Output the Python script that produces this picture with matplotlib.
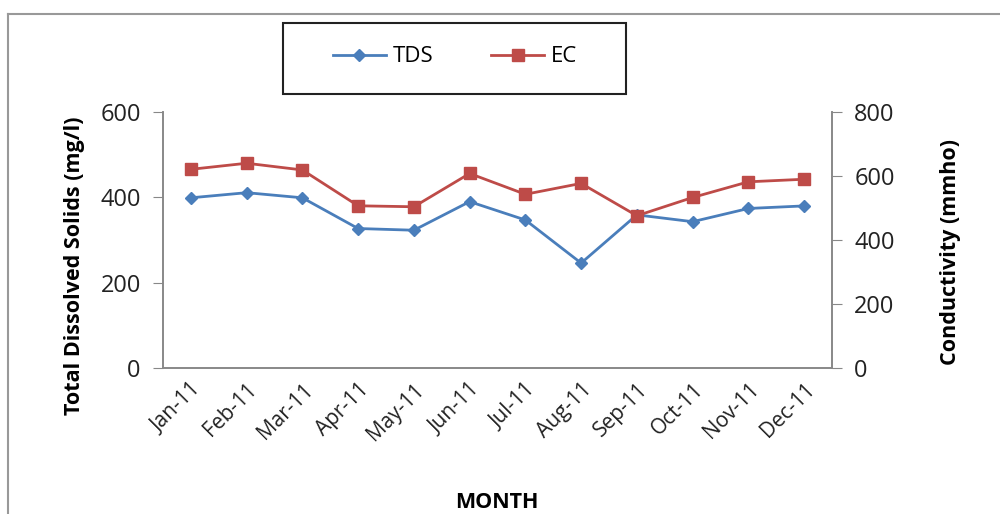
import matplotlib
matplotlib.use("Agg")
import matplotlib.pyplot as plt
from matplotlib.lines import Line2D
from matplotlib.patches import Rectangle

months = ["Jan-11", "Feb-11", "Mar-11", "Apr-11", "May-11", "Jun-11",
          "Jul-11", "Aug-11", "Sep-11", "Oct-11", "Nov-11", "Dec-11"]
tds = [399, 411, 399, 327, 323, 390, 347, 246, 359, 343, 374, 380]
ec = [621, 640, 619, 507, 504, 608, 543, 577, 476, 533, 582, 590]

plt.rcParams['font.family'] = ['Open Sans', 'DejaVu Sans']

fig = plt.figure(figsize=(10, 5.14), dpi=100)
ax = fig.add_axes([0.163, 0.284, 0.669, 0.498])
ax2 = ax.twinx()

x = list(range(len(months)))
l1, = ax.plot(x, tds, color="#4A7EBB", marker="D", markersize=6, lw=2, label="TDS")
l2, = ax2.plot(x, ec, color="#BE4B48", marker="s", markersize=9, lw=2, label="EC")

ax.set_xlim(-0.5, 11.5)
ax.set_ylim(0, 600)
ax.set_yticks([0, 200, 400, 600])
ax2.set_ylim(0, 800)
ax2.set_yticks([0, 200, 400, 600, 800])

ax.set_xticks(x)
ax.set_xticklabels(months, rotation=45, ha="right", rotation_mode="anchor")
ax.tick_params(axis="x", length=0, labelsize=15, pad=8, colors="#222222")
ax.tick_params(axis="y", length=7, labelsize=17, pad=9, colors="#888888", labelcolor="#222222")
ax2.tick_params(axis="y", length=7, labelsize=17, pad=9, colors="#888888", labelcolor="#222222")

for a in (ax, ax2):
    a.spines["top"].set_visible(False)
    for s in ("left", "right", "bottom"):
        a.spines[s].set_color("#888888")
        a.spines[s].set_linewidth(1.2)

ax.set_ylabel("Total Dissolved Solids (mg/l)", fontsize=15.5, fontweight="bold")
ax.yaxis.set_label_coords(-0.116, 0.40)
ax2.set_ylabel("Conductivity (mmho)", fontsize=15.5, fontweight="bold")
ax2.yaxis.set_label_coords(1.162, 0.455)
fig.text(0.497, 1 - 503 / 514, "MONTH", fontsize=15.5, fontweight="bold", ha="center", va="center")

leg = fig.legend(handles=[l1, l2], loc="center", ncol=2,
                 bbox_to_anchor=(0.455, 1 - 57 / 514),
                 fontsize=16, frameon=False,
                 handlelength=2.4, columnspacing=2.6,
                 handletextpad=0.3, borderaxespad=0)

# legend box
fig.add_artist(Rectangle((0.283, 1 - 94 / 514), 0.343, 71 / 514, transform=fig.transFigure,
                         fill=False, edgecolor="#222222", lw=1.5))

# outer frame of the chart area
fig.add_artist(Line2D([0.008, 1.0], [1 - 14 / 514, 1 - 14 / 514], color="#999999", lw=1.5))
fig.add_artist(Line2D([0.008, 0.008], [0, 1 - 14 / 514], color="#999999", lw=1.5))

fig.savefig("out.png", dpi=100)
